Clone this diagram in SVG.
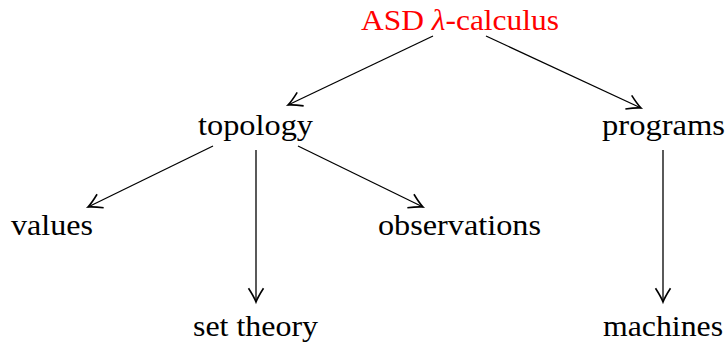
<svg xmlns="http://www.w3.org/2000/svg" width="727" height="342" viewBox="0 0 727 342">
<style>
text{font-family:"Liberation Serif","DejaVu Serif",serif;font-size:30px;text-anchor:middle;fill:#000}
.red{fill:#ff0000}
.c line{stroke:#000;stroke-width:1.3;marker-end:url(#ah)}
</style>
<defs>
<marker id="ah" markerUnits="userSpaceOnUse" markerWidth="20" markerHeight="20" viewBox="-12 -8 14 16" refX="0" refY="0" orient="auto">
<path d="M-11,-6 Q-4,-1.5 0,0 Q-4,1.5 -11,6" fill="none" stroke="#000" stroke-width="1.3"/>
</marker>
</defs>
<g id="n-asd"><text class="red" x="460" y="30" textLength="198" lengthAdjust="spacingAndGlyphs">ASD <tspan font-style="italic">λ</tspan>-calculus</text></g>
<g id="n-topology"><text x="255.5" y="135" textLength="115" lengthAdjust="spacingAndGlyphs">topology</text></g>
<g id="n-programs"><text x="663.5" y="135" textLength="123" lengthAdjust="spacingAndGlyphs">programs</text></g>
<g id="n-values"><text x="52" y="235" textLength="82" lengthAdjust="spacingAndGlyphs">values</text></g>
<g id="n-observations"><text x="459.5" y="235" textLength="163" lengthAdjust="spacingAndGlyphs">observations</text></g>
<g id="n-settheory"><text x="255.5" y="336" textLength="125" lengthAdjust="spacingAndGlyphs">set theory</text></g>
<g id="n-machines"><text x="663" y="336" textLength="120" lengthAdjust="spacingAndGlyphs">machines</text></g>
<g id="connectors" class="c">
<line x1="433" y1="36" x2="288" y2="105"/>
<line x1="486" y1="36" x2="641" y2="108"/>
<line x1="213" y1="146" x2="88" y2="207"/>
<line x1="256" y1="150" x2="256" y2="302"/>
<line x1="298" y1="146" x2="423" y2="207"/>
<line x1="663" y1="150" x2="663" y2="302"/>
</g>
</svg>
